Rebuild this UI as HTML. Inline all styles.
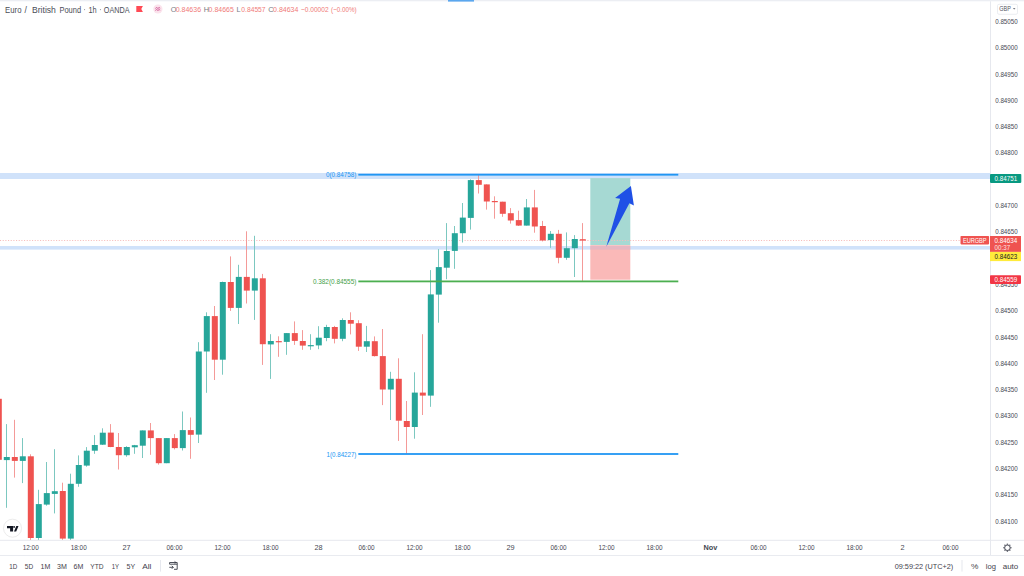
<!DOCTYPE html>
<html><head><meta charset="utf-8">
<style>
html,body{margin:0;padding:0;width:1024px;height:576px;overflow:hidden;background:#fff;}
svg{position:absolute;left:0;top:0;}
text{font-family:"Liberation Sans",sans-serif;}
</style></head><body>
<svg width="1024" height="576" viewBox="0 0 1024 576">

<rect x="0" y="0" width="1024" height="1.3" fill="#eceef3"/>
<rect x="448" y="0" width="26" height="1.6" fill="#5ba7ee"/>
<rect x="0" y="173" width="990" height="6" fill="#d0e2fa"/>
<rect x="0" y="246" width="990" height="3.6" fill="#d0e2fa"/>
<rect x="590.3" y="178.1" width="40" height="67.1" fill="#a6d9d3"/>
<rect x="590.3" y="245.2" width="40" height="34.5" fill="#fab9b8"/>
<rect x="590.3" y="246" width="40" height="3.6" fill="#d8b6c8" opacity="0.6"/>
<line x1="0" y1="240.5" x2="960" y2="240.5" stroke="#f6bdbc" stroke-width="1" stroke-dasharray="1.1 1.57"/>
<rect x="-2" y="398.5" width="1" height="62.0" fill="#f49a98"/>
<rect x="-4.2" y="398.8" width="6" height="61.0" fill="#ef5350"/>
<rect x="6" y="424.1" width="1" height="83.7" fill="#7cc8c0"/>
<rect x="3.8" y="457.0" width="6" height="3.1" fill="#26a69a"/>
<rect x="14" y="419.8" width="1" height="57.8" fill="#f49a98"/>
<rect x="11.8" y="457.0" width="6" height="3.9" fill="#ef5350"/>
<rect x="22" y="438.1" width="1" height="45.0" fill="#7cc8c0"/>
<rect x="19.8" y="456.3" width="6" height="4.6" fill="#26a69a"/>
<rect x="30" y="454.3" width="1" height="85.7" fill="#f49a98"/>
<rect x="27.8" y="456.3" width="6" height="81.7" fill="#ef5350"/>
<rect x="38" y="489.8" width="1" height="50.2" fill="#7cc8c0"/>
<rect x="35.8" y="504.1" width="6" height="33.9" fill="#26a69a"/>
<rect x="46" y="462.0" width="1" height="43.7" fill="#7cc8c0"/>
<rect x="43.8" y="493.1" width="6" height="11.5" fill="#26a69a"/>
<rect x="54" y="449.2" width="1" height="64.2" fill="#7cc8c0"/>
<rect x="51.8" y="491.2" width="6" height="2.7" fill="#26a69a"/>
<rect x="62" y="482.7" width="1" height="57.3" fill="#f49a98"/>
<rect x="59.8" y="491.0" width="6" height="47.6" fill="#ef5350"/>
<rect x="70" y="473.7" width="1" height="66.3" fill="#7cc8c0"/>
<rect x="67.8" y="483.8" width="6" height="54.8" fill="#26a69a"/>
<rect x="78" y="455.4" width="1" height="31.4" fill="#7cc8c0"/>
<rect x="75.8" y="465.0" width="6" height="18.8" fill="#26a69a"/>
<rect x="86" y="447.1" width="1" height="19.6" fill="#7cc8c0"/>
<rect x="83.8" y="450.7" width="6" height="14.9" fill="#26a69a"/>
<rect x="94" y="435.1" width="1" height="18.7" fill="#7cc8c0"/>
<rect x="91.8" y="445.0" width="6" height="5.7" fill="#26a69a"/>
<rect x="102" y="428.3" width="1" height="16.7" fill="#7cc8c0"/>
<rect x="99.8" y="432.7" width="6" height="12.0" fill="#26a69a"/>
<rect x="110" y="424.1" width="1" height="23.1" fill="#f49a98"/>
<rect x="107.8" y="432.6" width="6" height="14.4" fill="#ef5350"/>
<rect x="118" y="433.0" width="1" height="36.5" fill="#f49a98"/>
<rect x="115.8" y="447.0" width="6" height="8.2" fill="#ef5350"/>
<rect x="126" y="446.2" width="1" height="10.5" fill="#7cc8c0"/>
<rect x="123.8" y="447.0" width="6" height="8.2" fill="#26a69a"/>
<rect x="134" y="444.9" width="1" height="8.9" fill="#7cc8c0"/>
<rect x="131.8" y="445.2" width="6" height="2.1" fill="#26a69a"/>
<rect x="142" y="430.4" width="1" height="27.6" fill="#7cc8c0"/>
<rect x="139.8" y="430.4" width="6" height="15.3" fill="#26a69a"/>
<rect x="150" y="423.0" width="1" height="31.8" fill="#f49a98"/>
<rect x="147.8" y="430.4" width="6" height="7.7" fill="#ef5350"/>
<rect x="158" y="438.1" width="1" height="26.5" fill="#f49a98"/>
<rect x="155.8" y="438.1" width="6" height="25.1" fill="#ef5350"/>
<rect x="166" y="438.1" width="1" height="25.1" fill="#7cc8c0"/>
<rect x="163.8" y="438.1" width="6" height="25.1" fill="#26a69a"/>
<rect x="174" y="434.1" width="1" height="15.3" fill="#f49a98"/>
<rect x="171.8" y="438.1" width="6" height="10.0" fill="#ef5350"/>
<rect x="182" y="411.5" width="1" height="39.0" fill="#7cc8c0"/>
<rect x="179.8" y="430.1" width="6" height="18.0" fill="#26a69a"/>
<rect x="190" y="417.5" width="1" height="41.3" fill="#f49a98"/>
<rect x="187.8" y="430.1" width="6" height="4.7" fill="#ef5350"/>
<rect x="198" y="342.2" width="1" height="100.8" fill="#7cc8c0"/>
<rect x="195.8" y="351.5" width="6" height="83.1" fill="#26a69a"/>
<rect x="206" y="312.3" width="1" height="80.5" fill="#7cc8c0"/>
<rect x="203.8" y="316.1" width="6" height="35.4" fill="#26a69a"/>
<rect x="214" y="306.0" width="1" height="74.0" fill="#f49a98"/>
<rect x="211.8" y="316.1" width="6" height="43.6" fill="#ef5350"/>
<rect x="222" y="281.6" width="1" height="93.1" fill="#7cc8c0"/>
<rect x="219.8" y="282.0" width="6" height="77.7" fill="#26a69a"/>
<rect x="230" y="256.4" width="1" height="54.5" fill="#f49a98"/>
<rect x="227.8" y="282.0" width="6" height="25.9" fill="#ef5350"/>
<rect x="238" y="264.8" width="1" height="59.2" fill="#7cc8c0"/>
<rect x="235.8" y="276.9" width="6" height="31.0" fill="#26a69a"/>
<rect x="246" y="231.3" width="1" height="72.2" fill="#f49a98"/>
<rect x="243.8" y="276.9" width="6" height="13.7" fill="#ef5350"/>
<rect x="254" y="235.8" width="1" height="84.1" fill="#7cc8c0"/>
<rect x="251.8" y="278.3" width="6" height="12.3" fill="#26a69a"/>
<rect x="262" y="273.9" width="1" height="91.0" fill="#f49a98"/>
<rect x="259.8" y="278.3" width="6" height="65.9" fill="#ef5350"/>
<rect x="270" y="334.2" width="1" height="44.7" fill="#7cc8c0"/>
<rect x="267.8" y="341.0" width="6" height="3.4" fill="#26a69a"/>
<rect x="278" y="336.3" width="1" height="20.5" fill="#f49a98"/>
<rect x="275.8" y="341.1" width="6" height="1.2" fill="#ef5350"/>
<rect x="286" y="333.1" width="1" height="21.7" fill="#7cc8c0"/>
<rect x="283.8" y="333.1" width="6" height="8.8" fill="#26a69a"/>
<rect x="294" y="321.4" width="1" height="23.5" fill="#f49a98"/>
<rect x="291.8" y="333.1" width="6" height="7.8" fill="#ef5350"/>
<rect x="302" y="330.1" width="1" height="19.7" fill="#f49a98"/>
<rect x="299.8" y="341.0" width="6" height="4.6" fill="#ef5350"/>
<rect x="310" y="334.2" width="1" height="15.6" fill="#7cc8c0"/>
<rect x="307.8" y="345.1" width="6" height="1.2" fill="#26a69a"/>
<rect x="318" y="326.2" width="1" height="23.0" fill="#7cc8c0"/>
<rect x="315.8" y="337.7" width="6" height="7.7" fill="#26a69a"/>
<rect x="326" y="324.8" width="1" height="16.4" fill="#7cc8c0"/>
<rect x="323.8" y="327.0" width="6" height="11.0" fill="#26a69a"/>
<rect x="334" y="325.9" width="1" height="17.5" fill="#f49a98"/>
<rect x="331.8" y="327.0" width="6" height="11.8" fill="#ef5350"/>
<rect x="342" y="318.3" width="1" height="22.9" fill="#7cc8c0"/>
<rect x="339.8" y="320.0" width="6" height="18.8" fill="#26a69a"/>
<rect x="350" y="312.3" width="1" height="22.1" fill="#f49a98"/>
<rect x="347.8" y="320.0" width="6" height="3.7" fill="#ef5350"/>
<rect x="358" y="320.2" width="1" height="30.7" fill="#f49a98"/>
<rect x="355.8" y="323.2" width="6" height="23.5" fill="#ef5350"/>
<rect x="366" y="325.9" width="1" height="26.1" fill="#7cc8c0"/>
<rect x="363.8" y="341.2" width="6" height="5.5" fill="#26a69a"/>
<rect x="374" y="336.4" width="1" height="20.1" fill="#f49a98"/>
<rect x="371.8" y="341.2" width="6" height="14.9" fill="#ef5350"/>
<rect x="382" y="329.0" width="1" height="76.1" fill="#f49a98"/>
<rect x="379.8" y="356.1" width="6" height="33.4" fill="#ef5350"/>
<rect x="390" y="371.8" width="1" height="48.2" fill="#7cc8c0"/>
<rect x="387.8" y="378.8" width="6" height="10.7" fill="#26a69a"/>
<rect x="398" y="358.3" width="1" height="82.6" fill="#f49a98"/>
<rect x="395.8" y="378.8" width="6" height="41.9" fill="#ef5350"/>
<rect x="406" y="401.0" width="1" height="52.5" fill="#f49a98"/>
<rect x="403.8" y="421.0" width="6" height="6.0" fill="#ef5350"/>
<rect x="414" y="372.3" width="1" height="66.4" fill="#7cc8c0"/>
<rect x="411.8" y="392.6" width="6" height="34.4" fill="#26a69a"/>
<rect x="422" y="334.2" width="1" height="80.8" fill="#f49a98"/>
<rect x="419.8" y="392.6" width="6" height="3.0" fill="#ef5350"/>
<rect x="430" y="270.1" width="1" height="136.7" fill="#7cc8c0"/>
<rect x="427.8" y="294.4" width="6" height="101.2" fill="#26a69a"/>
<rect x="438" y="249.1" width="1" height="73.6" fill="#7cc8c0"/>
<rect x="435.8" y="267.1" width="6" height="27.5" fill="#26a69a"/>
<rect x="446" y="223.1" width="1" height="56.1" fill="#7cc8c0"/>
<rect x="443.8" y="251.0" width="6" height="16.7" fill="#26a69a"/>
<rect x="454" y="226.0" width="1" height="42.8" fill="#7cc8c0"/>
<rect x="451.8" y="233.2" width="6" height="17.7" fill="#26a69a"/>
<rect x="462" y="203.0" width="1" height="39.5" fill="#7cc8c0"/>
<rect x="459.8" y="217.6" width="6" height="15.6" fill="#26a69a"/>
<rect x="470" y="179.3" width="1" height="50.3" fill="#7cc8c0"/>
<rect x="467.8" y="180.1" width="6" height="37.8" fill="#26a69a"/>
<rect x="478" y="174.2" width="1" height="19.3" fill="#f49a98"/>
<rect x="475.8" y="180.1" width="6" height="4.7" fill="#ef5350"/>
<rect x="486" y="184.4" width="1" height="25.2" fill="#f49a98"/>
<rect x="483.8" y="184.4" width="6" height="17.1" fill="#ef5350"/>
<rect x="494" y="196.3" width="1" height="22.4" fill="#f49a98"/>
<rect x="491.8" y="201.0" width="6" height="1.2" fill="#ef5350"/>
<rect x="502" y="201.7" width="1" height="15.1" fill="#f49a98"/>
<rect x="499.8" y="201.7" width="6" height="12.1" fill="#ef5350"/>
<rect x="510" y="208.1" width="1" height="15.5" fill="#f49a98"/>
<rect x="507.8" y="213.2" width="6" height="7.3" fill="#ef5350"/>
<rect x="518" y="210.7" width="1" height="15.3" fill="#f49a98"/>
<rect x="515.8" y="220.1" width="6" height="5.5" fill="#ef5350"/>
<rect x="526" y="199.0" width="1" height="26.6" fill="#7cc8c0"/>
<rect x="523.8" y="207.4" width="6" height="18.2" fill="#26a69a"/>
<rect x="534" y="189.9" width="1" height="42.8" fill="#f49a98"/>
<rect x="531.8" y="207.4" width="6" height="19.1" fill="#ef5350"/>
<rect x="542" y="220.9" width="1" height="20.5" fill="#f49a98"/>
<rect x="539.8" y="226.0" width="6" height="14.5" fill="#ef5350"/>
<rect x="550" y="231.0" width="1" height="16.8" fill="#7cc8c0"/>
<rect x="547.8" y="233.8" width="6" height="6.3" fill="#26a69a"/>
<rect x="558" y="229.9" width="1" height="33.4" fill="#f49a98"/>
<rect x="555.8" y="233.8" width="6" height="24.0" fill="#ef5350"/>
<rect x="566" y="232.4" width="1" height="27.4" fill="#7cc8c0"/>
<rect x="563.8" y="248.2" width="6" height="9.6" fill="#26a69a"/>
<rect x="574" y="235.1" width="1" height="41.9" fill="#7cc8c0"/>
<rect x="571.8" y="239.0" width="6" height="9.2" fill="#26a69a"/>
<rect x="582" y="223.1" width="1" height="57.7" fill="#f49a98"/>
<rect x="579.8" y="239.2" width="6" height="1.4" fill="#ef5350"/>
<rect x="358.3" y="173.8" width="320" height="1.8" fill="#2196f3"/>
<rect x="358.3" y="280.5" width="320" height="1.8" fill="#4caf50"/>
<rect x="358.3" y="453.1" width="320" height="1.8" fill="#2196f3"/>
<text x="356.4" y="177.4" font-size="7.8" fill="#2196f3" text-anchor="end" textLength="30.5" lengthAdjust="spacingAndGlyphs">0(0.84758)</text>
<text x="356.4" y="284.1" font-size="7.8" fill="#43a047" text-anchor="end" textLength="43.5" lengthAdjust="spacingAndGlyphs">0.382(0.84555)</text>
<text x="356.4" y="456.9" font-size="7.8" fill="#2196f3" text-anchor="end" textLength="29.8" lengthAdjust="spacingAndGlyphs">1(0.84227)</text>
<polygon points="606.3,246.8 620.1,198.8 615.1,198 630.9,185.9 633.9,205.4 629.4,203.2" fill="#1f50e6"/>
<circle cx="12.5" cy="528.2" r="9" fill="#fff" stroke="#ececec" stroke-width="1"/>
<path d="M7,525.9 H13.1 V531.6 H10.1 V528.2 H7 Z" fill="#131722"/>
<circle cx="14.1" cy="526.9" r="0.95" fill="#131722"/>
<polygon points="16.3,525.9 18.5,525.9 16.2,531.6 14.0,531.6" fill="#131722"/>
<rect x="990" y="1.3" width="1" height="554.2" fill="#e6e8ee"/>
<rect x="0" y="539.8" width="1024" height="1" fill="#e6e8ee"/>
<rect x="0" y="555" width="1024" height="1" fill="#e9ebf0"/>
<text x="995.2" y="23.9" font-size="7.8" fill="#454852" textLength="22.5" lengthAdjust="spacingAndGlyphs">0.85050</text>
<text x="995.2" y="50.2" font-size="7.8" fill="#454852" textLength="22.5" lengthAdjust="spacingAndGlyphs">0.85000</text>
<text x="995.2" y="76.5" font-size="7.8" fill="#454852" textLength="22.5" lengthAdjust="spacingAndGlyphs">0.84950</text>
<text x="995.2" y="102.8" font-size="7.8" fill="#454852" textLength="22.5" lengthAdjust="spacingAndGlyphs">0.84900</text>
<text x="995.2" y="129.1" font-size="7.8" fill="#454852" textLength="22.5" lengthAdjust="spacingAndGlyphs">0.84850</text>
<text x="995.2" y="155.4" font-size="7.8" fill="#454852" textLength="22.5" lengthAdjust="spacingAndGlyphs">0.84800</text>
<text x="995.2" y="181.7" font-size="7.8" fill="#454852" textLength="22.5" lengthAdjust="spacingAndGlyphs">0.84750</text>
<text x="995.2" y="208.0" font-size="7.8" fill="#454852" textLength="22.5" lengthAdjust="spacingAndGlyphs">0.84700</text>
<text x="995.2" y="234.3" font-size="7.8" fill="#454852" textLength="22.5" lengthAdjust="spacingAndGlyphs">0.84650</text>
<text x="995.2" y="260.6" font-size="7.8" fill="#454852" textLength="22.5" lengthAdjust="spacingAndGlyphs">0.84600</text>
<text x="995.2" y="286.9" font-size="7.8" fill="#454852" textLength="22.5" lengthAdjust="spacingAndGlyphs">0.84550</text>
<text x="995.2" y="313.2" font-size="7.8" fill="#454852" textLength="22.5" lengthAdjust="spacingAndGlyphs">0.84500</text>
<text x="995.2" y="339.5" font-size="7.8" fill="#454852" textLength="22.5" lengthAdjust="spacingAndGlyphs">0.84450</text>
<text x="995.2" y="365.8" font-size="7.8" fill="#454852" textLength="22.5" lengthAdjust="spacingAndGlyphs">0.84400</text>
<text x="995.2" y="392.1" font-size="7.8" fill="#454852" textLength="22.5" lengthAdjust="spacingAndGlyphs">0.84350</text>
<text x="995.2" y="418.4" font-size="7.8" fill="#454852" textLength="22.5" lengthAdjust="spacingAndGlyphs">0.84300</text>
<text x="995.2" y="444.7" font-size="7.8" fill="#454852" textLength="22.5" lengthAdjust="spacingAndGlyphs">0.84250</text>
<text x="995.2" y="471.0" font-size="7.8" fill="#454852" textLength="22.5" lengthAdjust="spacingAndGlyphs">0.84200</text>
<text x="995.2" y="497.3" font-size="7.8" fill="#454852" textLength="22.5" lengthAdjust="spacingAndGlyphs">0.84150</text>
<text x="995.2" y="523.6" font-size="7.8" fill="#454852" textLength="22.5" lengthAdjust="spacingAndGlyphs">0.84100</text>
<rect x="997.5" y="4.3" width="20" height="10" rx="1.5" fill="#fff" stroke="#e6e8ee" stroke-width="0.8"/>
<text x="999.3" y="11.1" font-size="7.2" fill="#50535e" textLength="11.5" lengthAdjust="spacingAndGlyphs">GBP</text>
<polygon points="1012.9,8.2 1015.5,8.2 1014.2,9.6" fill="#50535e"/>
<rect x="990" y="174" width="31.3" height="8.9" rx="0.8" fill="#089981"/>
<text x="994.6" y="181" font-size="7.2" fill="#fff" textLength="22.5" lengthAdjust="spacingAndGlyphs">0.84751</text>
<rect x="960.5" y="236" width="28.6" height="8.4" rx="0.8" fill="#ef5350"/>
<text x="963" y="243" font-size="7.2" fill="#fff" textLength="23.5" lengthAdjust="spacingAndGlyphs">EURGBP</text>
<rect x="990" y="236" width="31" height="15.9" fill="#ef5350"/>
<text x="994.6" y="242.8" font-size="7.2" fill="#fff" textLength="22.5" lengthAdjust="spacingAndGlyphs">0.84634</text>
<text x="994.6" y="250" font-size="7.2" fill="#fde3e3" textLength="15.5" lengthAdjust="spacingAndGlyphs">00:37</text>
<rect x="990" y="251.9" width="31" height="9.2" fill="#ffeb3b"/>
<text x="994.6" y="259.3" font-size="7.2" fill="#131722" textLength="22.5" lengthAdjust="spacingAndGlyphs">0.84623</text>
<rect x="990" y="275.2" width="31" height="8.7" rx="0.8" fill="#f23645"/>
<text x="994.6" y="282.3" font-size="7.2" fill="#fff" textLength="22.5" lengthAdjust="spacingAndGlyphs">0.84559</text>
<text x="30.7" y="550.4" font-size="7.3" fill="#454852" text-anchor="middle" textLength="16" lengthAdjust="spacingAndGlyphs">12:00</text>
<text x="78.7" y="550.4" font-size="7.3" fill="#454852" text-anchor="middle" textLength="16" lengthAdjust="spacingAndGlyphs">18:00</text>
<text x="126.5" y="550.4" font-size="7.3" fill="#454852" text-anchor="middle">27</text>
<text x="174.5" y="550.4" font-size="7.3" fill="#454852" text-anchor="middle" textLength="16" lengthAdjust="spacingAndGlyphs">06:00</text>
<text x="222.5" y="550.4" font-size="7.3" fill="#454852" text-anchor="middle" textLength="16" lengthAdjust="spacingAndGlyphs">12:00</text>
<text x="270.5" y="550.4" font-size="7.3" fill="#454852" text-anchor="middle" textLength="16" lengthAdjust="spacingAndGlyphs">18:00</text>
<text x="318.5" y="550.4" font-size="7.3" fill="#454852" text-anchor="middle">28</text>
<text x="366.5" y="550.4" font-size="7.3" fill="#454852" text-anchor="middle" textLength="16" lengthAdjust="spacingAndGlyphs">06:00</text>
<text x="414.5" y="550.4" font-size="7.3" fill="#454852" text-anchor="middle" textLength="16" lengthAdjust="spacingAndGlyphs">12:00</text>
<text x="462.5" y="550.4" font-size="7.3" fill="#454852" text-anchor="middle" textLength="16" lengthAdjust="spacingAndGlyphs">18:00</text>
<text x="510.5" y="550.4" font-size="7.3" fill="#454852" text-anchor="middle">29</text>
<text x="558.5" y="550.4" font-size="7.3" fill="#454852" text-anchor="middle" textLength="16" lengthAdjust="spacingAndGlyphs">06:00</text>
<text x="606.5" y="550.4" font-size="7.3" fill="#454852" text-anchor="middle" textLength="16" lengthAdjust="spacingAndGlyphs">12:00</text>
<text x="654.5" y="550.4" font-size="7.3" fill="#454852" text-anchor="middle" textLength="16" lengthAdjust="spacingAndGlyphs">18:00</text>
<text x="710.5" y="550.4" font-size="7.3" font-weight="bold" fill="#454852" text-anchor="middle">Nov</text>
<text x="758.5" y="550.4" font-size="7.3" fill="#454852" text-anchor="middle" textLength="16" lengthAdjust="spacingAndGlyphs">06:00</text>
<text x="806.5" y="550.4" font-size="7.3" fill="#454852" text-anchor="middle" textLength="16" lengthAdjust="spacingAndGlyphs">12:00</text>
<text x="854.5" y="550.4" font-size="7.3" fill="#454852" text-anchor="middle" textLength="16" lengthAdjust="spacingAndGlyphs">18:00</text>
<text x="902.5" y="550.4" font-size="7.3" fill="#454852" text-anchor="middle">2</text>
<text x="950.5" y="550.4" font-size="7.3" fill="#454852" text-anchor="middle" textLength="16" lengthAdjust="spacingAndGlyphs">06:00</text>
<g transform="translate(1007.4,547.7)" fill="none" stroke="#5a5d68" stroke-width="1.05"><circle r="2.75"/></g>
<g transform="translate(1007.4,547.7)" fill="#5a5d68"><rect x="-0.65" y="-4.1" width="1.3" height="1.2" transform="rotate(0)"/><rect x="-0.65" y="-4.1" width="1.3" height="1.2" transform="rotate(45)"/><rect x="-0.65" y="-4.1" width="1.3" height="1.2" transform="rotate(90)"/><rect x="-0.65" y="-4.1" width="1.3" height="1.2" transform="rotate(135)"/><rect x="-0.65" y="-4.1" width="1.3" height="1.2" transform="rotate(180)"/><rect x="-0.65" y="-4.1" width="1.3" height="1.2" transform="rotate(225)"/><rect x="-0.65" y="-4.1" width="1.3" height="1.2" transform="rotate(270)"/><rect x="-0.65" y="-4.1" width="1.3" height="1.2" transform="rotate(315)"/></g>
<text x="9.2" y="568.8" font-size="8" fill="#3f424c" textLength="8.0" lengthAdjust="spacingAndGlyphs">1D</text>
<text x="24.8" y="568.8" font-size="8" fill="#3f424c" textLength="8.4" lengthAdjust="spacingAndGlyphs">5D</text>
<text x="40.6" y="568.8" font-size="8" fill="#3f424c" textLength="9.8" lengthAdjust="spacingAndGlyphs">1M</text>
<text x="57" y="568.8" font-size="8" fill="#3f424c" textLength="9.8" lengthAdjust="spacingAndGlyphs">3M</text>
<text x="73.6" y="568.8" font-size="8" fill="#3f424c" textLength="9.8" lengthAdjust="spacingAndGlyphs">6M</text>
<text x="90.2" y="568.8" font-size="8" fill="#3f424c" textLength="13.3" lengthAdjust="spacingAndGlyphs">YTD</text>
<text x="111.7" y="568.8" font-size="8" fill="#3f424c" textLength="7.4" lengthAdjust="spacingAndGlyphs">1Y</text>
<text x="126.6" y="568.8" font-size="8" fill="#3f424c" textLength="8.6" lengthAdjust="spacingAndGlyphs">5Y</text>
<text x="142.2" y="568.8" font-size="8" fill="#3f424c" textLength="9.2" lengthAdjust="spacingAndGlyphs">All</text>
<rect x="160" y="560" width="1" height="11.6" fill="#e6e8ee"/>
<g fill="none" stroke="#3a3d48" stroke-width="0.9"><path d="M169.6,564.2 V562.5 H177.2 V569.3 H174"/><path d="M169.6,564.2 H177.2"/><path d="M174.6,561.4 L175.9,562.5 L174.6,563.6"/><path d="M169.3,567.3 H173.3 M171.8,565.8 L173.3,567.3 L171.8,568.8"/></g>
<text x="894.7" y="568.8" font-size="8" fill="#3f424c" textLength="58.6" lengthAdjust="spacingAndGlyphs">09:59:22 (UTC+2)</text>
<rect x="961.5" y="560" width="1" height="11.6" fill="#e6e8ee"/>
<text x="970.9" y="568.8" font-size="8" fill="#3f424c" textLength="7.4" lengthAdjust="spacingAndGlyphs">%</text>
<text x="985.7" y="568.8" font-size="8" fill="#3f424c" textLength="10.2" lengthAdjust="spacingAndGlyphs">log</text>
<text x="1002.7" y="568.8" font-size="8" fill="#3f424c" textLength="15.6" lengthAdjust="spacingAndGlyphs">auto</text>
<text x="5.1" y="12.6" font-size="8.6" fill="#4a4d57" textLength="16.4" lengthAdjust="spacingAndGlyphs">Euro</text>
<text x="59.4" y="12.6" font-size="8.6" fill="#4a4d57" textLength="21.7" lengthAdjust="spacingAndGlyphs">Pound</text>
<text x="32" y="12.6" font-size="8.6" fill="#4a4d57" textLength="23.9" lengthAdjust="spacingAndGlyphs">British</text>
<text x="88.5" y="12.6" font-size="8.6" fill="#4a4d57" textLength="8.2" lengthAdjust="spacingAndGlyphs">1h</text>
<text x="103.8" y="12.6" font-size="8.6" fill="#4a4d57" textLength="25.7" lengthAdjust="spacingAndGlyphs">OANDA</text>
<text x="24.6" y="12.6" font-size="8.6" fill="#4a4d57">/</text>
<circle cx="84.6" cy="9.6" r="0.55" fill="#8a8d96"/>
<circle cx="100.4" cy="9.6" r="0.55" fill="#8a8d96"/>
<path d="M136.3,5.9 H142.9 L141.3,8.9 L142.9,11.9 H136.3 Z" fill="#ff4a55"/>
<circle cx="157.9" cy="9" r="4.6" fill="#fbe3ec"/>
<path d="M155.4,8.4 L156.6,7.6 L157.9,8.4 L159.2,7.6 L160.2,8.2 M155.4,10.4 L156.6,9.6 L157.9,10.4 L159.2,9.6 L160.2,10.2" fill="none" stroke="#c94a8c" stroke-width="0.9"/>
<text x="170.8" y="11.9" font-size="7.4" fill="#787b86">O</text>
<text x="175.7" y="11.9" font-size="7.4" fill="#f07a78" textLength="25.4" lengthAdjust="spacingAndGlyphs">0.84636</text>
<text x="203.7" y="11.9" font-size="7.4" fill="#787b86">H</text>
<text x="208.6" y="11.9" font-size="7.4" fill="#f07a78" textLength="25.2" lengthAdjust="spacingAndGlyphs">0.84665</text>
<text x="236.4" y="11.9" font-size="7.4" fill="#787b86">L</text>
<text x="241.3" y="11.9" font-size="7.4" fill="#f07a78" textLength="24.3" lengthAdjust="spacingAndGlyphs">0.84557</text>
<text x="268.2" y="11.9" font-size="7.4" fill="#787b86">C</text>
<text x="273.1" y="11.9" font-size="7.4" fill="#f07a78" textLength="25.3" lengthAdjust="spacingAndGlyphs">0.84634</text>
<text x="301" y="11.9" font-size="7.4" fill="#f07a78" textLength="27.6" lengthAdjust="spacingAndGlyphs">−0.00002</text>
<text x="331.1" y="11.9" font-size="7.4" fill="#f07a78" textLength="25.6" lengthAdjust="spacingAndGlyphs">(−0.00%)</text>
</svg></body></html>
